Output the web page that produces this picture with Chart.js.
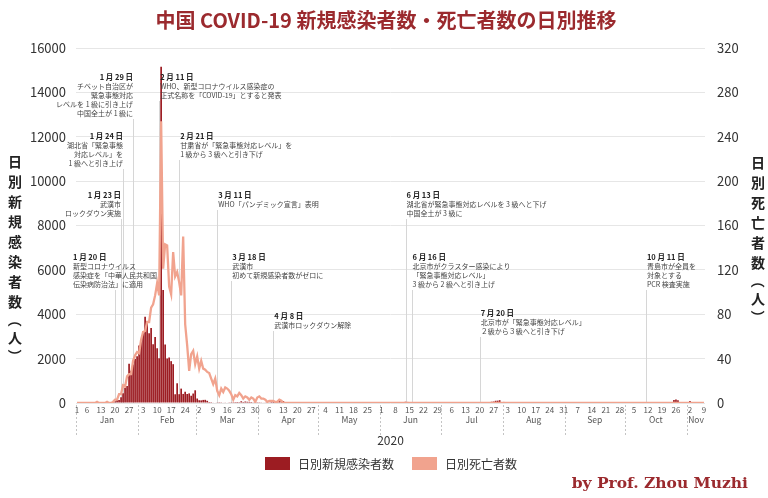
<!DOCTYPE html>
<html>
<head>
<meta charset="utf-8">
<script src="https://cdn.jsdelivr.net/npm/chart.js@4.4.0/dist/chart.umd.min.js"></script>
<style>
    html, body { margin: 0; padding: 0; background: #fff; }
</style>
</head>
<body>
<canvas id="chart" width="768" height="498"></canvas>
<script>
// Months shown on the axis (2020, Jan 1 to Nov 9)
const months = ['Jan', 'Feb', 'Mar', 'Apr', 'May', 'Jun', 'Jul', 'Aug', 'Sep', 'Oct', 'Nov'];
const monthDays = [31, 29, 31, 30, 31, 30, 31, 31, 30, 31, 9];

// Day numbers printed under the axis, per month
const tickDays = [
    [1, 6, 13, 20, 27], [3, 10, 17, 24], [2, 9, 16, 23, 30], [6, 13, 20, 27],
    [4, 11, 18, 25], [1, 8, 15, 22, 29], [6, 13, 20, 27], [3, 10, 17, 24, 31],
    [7, 14, 21, 28], [5, 12, 19, 26], [2, 9]
];

// Daily new cases
const casesJan = [0, 0, 0, 0, 0, 0, 0, 0, 0, 0, 0, 0, 0, 0, 0, 0, 4, 17, 59, 77, 149, 131, 259, 444, 688, 769, 1771, 1459, 1737, 1982, 2102];
const casesFeb = [2590, 2829, 3235, 3887, 3694, 3143, 3385, 2652, 2973, 2467, 2015, 15152, 5090, 2641, 2008, 2048, 1886, 1749, 394, 889, 397, 648, 409, 508, 406, 433, 327, 427, 573];
const casesMar = [202, 125, 119, 139, 143, 99, 44, 40, 19, 24, 15, 8, 11, 20, 16, 21, 13, 34, 39, 41, 46, 39, 78, 47, 67, 55, 54, 45, 31, 48, 36];
const casesApr = [35, 31, 19, 30, 39, 32, 62, 63, 42, 46, 99, 108, 89, 46, 26, 27, 16, 27, 12, 11, 30, 10, 10, 6, 12, 3, 6, 22, 4, 12];
const casesMay = [1, 2, 1, 3, 2, 2, 4, 1, 1, 14, 17, 7, 3, 8, 4, 5, 7, 6, 6, 2, 4, 3, 0, 11, 7, 3, 4, 2, 1, 4, 2];
const casesJun = [5, 16, 4, 5, 5, 5, 6, 3, 3, 3, 11, 11, 57, 49, 40, 44, 28, 25, 32, 26, 26, 18, 22, 11, 19, 17, 21, 12, 19, 3];
const casesJul = [3, 3, 4, 3, 7, 8, 7, 8, 2, 4, 3, 8, 7, 8, 6, 5, 13, 16, 22, 11, 14, 15, 22, 34, 46, 57, 68, 101, 105, 127, 45];
const casesAug = [49, 36, 43, 36, 27, 37, 37, 23, 23, 19, 25, 22, 19, 22, 22, 13, 22, 22, 14, 22, 17, 22, 20, 16, 15, 9, 9, 9, 9, 12, 9];
const casesSep = [5, 7, 11, 10, 10, 8, 10, 6, 7, 8, 10, 12, 10, 8, 10, 32, 14, 9, 20, 14, 6, 12, 12, 11, 10, 14, 15, 12, 8, 10];
const casesOct = [10, 14, 14, 20, 11, 10, 9, 13, 10, 19, 21, 13, 13, 10, 13, 24, 13, 13, 21, 16, 24, 13, 11, 20, 137, 161, 120, 19, 24, 25, 33];
const casesNov = [35, 93, 33, 24, 23, 32, 36, 16, 25];

// Daily deaths
const deathsJan = [0, 0, 0, 0, 0, 0, 0, 0, 0, 0, 1, 0, 0, 0, 0, 1, 0, 0, 1, 3, 3, 8, 8, 16, 15, 24, 26, 26, 38, 43, 46];
const deathsFeb = [45, 57, 64, 65, 73, 73, 86, 89, 97, 108, 97, 254, 121, 143, 142, 105, 98, 136, 114, 118, 109, 97, 150, 71, 52, 29, 44, 47, 35];
const deathsMar = [42, 31, 38, 31, 30, 28, 27, 22, 17, 22, 11, 7, 13, 10, 14, 13, 11, 8, 3, 7, 6, 9, 7, 4, 6, 5, 3, 5, 4, 1, 5];
const deathsApr = [6, 4, 4, 3, 1, 2, 2, 2, 1, 1, 3, 2, 0, 0, 0, 0, 0, 0, 0, 0, 0, 0, 0, 0, 0, 0, 0, 0, 0, 0];
const deathsMay = [0, 0, 0, 0, 0, 0, 0, 0, 0, 0, 0, 0, 0, 0, 0, 0, 0, 0, 0, 0, 0, 0, 0, 0, 0, 0, 0, 0, 0, 0, 0];
const deathsJun = [0, 0, 0, 0, 0, 0, 0, 0, 0, 0, 0, 0, 0, 0, 0, 0, 0, 0, 0, 0, 0, 0, 0, 0, 0, 0, 0, 0, 0, 0];
const deathsJul = [0, 0, 0, 0, 0, 0, 0, 0, 0, 0, 0, 0, 0, 0, 0, 0, 0, 0, 0, 0, 0, 0, 0, 0, 0, 0, 0, 0, 0, 0, 0];
const deathsAug = [0, 0, 0, 0, 0, 0, 0, 0, 0, 0, 0, 0, 0, 0, 0, 0, 0, 0, 0, 0, 0, 0, 0, 0, 0, 0, 0, 0, 0, 0, 0];
const deathsSep = [0, 0, 0, 0, 0, 0, 0, 0, 0, 0, 0, 0, 0, 0, 0, 0, 0, 0, 0, 0, 0, 0, 0, 0, 0, 0, 0, 0, 0, 0];
const deathsOct = [0, 0, 0, 0, 0, 0, 0, 0, 0, 0, 0, 0, 0, 0, 0, 0, 0, 0, 0, 0, 0, 0, 0, 0, 0, 0, 0, 0, 0, 0, 0];
const deathsNov = [0, 0, 0, 0, 0, 0, 0, 0, 0];

// Events marked on the chart
const events = [
    { date: '1/29', head: '1 月 29 日', lines: ['チベット自治区が', '緊急事態対応', 'レベルを 1 級に引き上げ', '中国全土が 1 級に'], align: 'right', top: 77 },
    { date: '2/11', head: '2 月 11 日', lines: ['WHO、新型コロナウイルス感染症の', '正式名称を「COVID-19」とすると発表'], align: 'left', top: 77 },
    { date: '1/24', head: '1 月 24 日', lines: ['湖北省「緊急事態', '対応レベル」を', '1 級へと引き上げ'], align: 'right', top: 136 },
    { date: '2/21', head: '2 月 21 日', lines: ['甘粛省が「緊急事態対応レベル」を', '1 級から 3 級へと引き下げ'], align: 'left', top: 136 },
    { date: '1/23', head: '1 月 23 日', lines: ['武漢市', 'ロックダウン実施'], align: 'right', top: 195 },
    { date: '3/11', head: '3 月 11 日', lines: ['WHO「パンデミック宣言」表明'], align: 'left', top: 195 },
    { date: '6/13', head: '6 月 13 日', lines: ['湖北省が緊急事態対応レベルを 3 級へと下げ', '中国全土が 3 級に'], align: 'left', top: 195 },
    { date: '1/20', head: '1 月 20 日', lines: ['新型コロナウイルス', '感染症を「中華人民共和国', '伝染病防治法」に適用'], align: 'left', top: 257, textX: 73 },
    { date: '3/18', head: '3 月 18 日', lines: ['武漢市', '初めて新規感染者数がゼロに'], align: 'left', top: 257 },
    { date: '6/16', head: '6 月 16 日', lines: ['北京市がクラスター感染により', '「緊急事態対応レベル」', '3 級から 2 級へと引き上げ'], align: 'left', top: 257 },
    { date: '10/11', head: '10 月 11 日', lines: ['青島市が全員を', '対象とする', 'PCR 検査実施'], align: 'left', top: 257 },
    { date: '4/8', head: '4 月 8 日', lines: ['武漢市ロックダウン解除'], align: 'left', top: 316 },
    { date: '7/20', head: '7 月 20 日', lines: ['北京市が「緊急事態対応レベル」', '２級から３級へと引き下げ'], align: 'left', top: 313 }
];

const labels = [];
const tickSet = new Set();
months.forEach((m, i) => {
    for (let d = 1; d <= monthDays[i]; d++) labels.push(`${i + 1}/${d}`);
    tickDays[i].forEach(d => tickSet.add(`${i + 1}/${d}`));
});

const cases = [].concat(casesJan, casesFeb, casesMar, casesApr, casesMay, casesJun, casesJul, casesAug, casesSep, casesOct, casesNov);
const deaths = [].concat(deathsJan, deathsFeb, deathsMar, deathsApr, deathsMay, deathsJun, deathsJul, deathsAug, deathsSep, deathsOct, deathsNov);

const FONT = '"Noto Sans CJK JP", "Noto Sans", sans-serif';
const BAR_COLOR = '#9c1c22';
const LINE_COLOR = '#f1a38e';
const TITLE_COLOR = '#9b2a2e';

function drawVertical(ctx, text, x, y) {
    // upright stacked characters, brackets turned sideways
    for (const ch of text) {
        const isBracket = ch === '（' || ch === '）';
        if (isBracket) {
            ctx.save();
            ctx.translate(x, y - 2);
            ctx.rotate(Math.PI / 2);
            ctx.fillText(ch, 0, 0);
            ctx.restore();
            y += 16;
        } else {
            ctx.fillText(ch, x, y);
            y += 20;
        }
    }
}

const decor = {
    id: 'decor',
    beforeDatasetsDraw(chart) {
        const { ctx, chartArea, scales } = chart;
        ctx.save();
        ctx.strokeStyle = '#d6d6d6';
        ctx.lineWidth = 1;
        events.forEach(ev => {
            const px = Math.round(scales.x.getPixelForValue(labels.indexOf(ev.date))) + 0.5;
            const top = ev.top + ev.lines.length * 9 + 6;
            ctx.beginPath();
            ctx.moveTo(px, top);
            ctx.lineTo(px, chartArea.bottom);
            ctx.stroke();
        });
        ctx.restore();
    },
    afterDraw(chart) {
        const { ctx, chartArea, scales } = chart;
        const x = scales.x;
        ctx.save();

        // Title
        ctx.fillStyle = TITLE_COLOR;
        ctx.font = `bold 20px ${FONT}`;
        ctx.textAlign = 'center';
        ctx.textBaseline = 'middle';
        ctx.fillText('中国 COVID-19 新規感染者数・死亡者数の日別推移', 386, 20);

        // Axis titles
        ctx.fillStyle = '#222';
        ctx.font = `bold 14px ${FONT}`;
        drawVertical(ctx, '日別新規感染者数（人）', 15, 162);
        drawVertical(ctx, '日別死亡者数（人）', 758, 163);

        // Event notes
        events.forEach(ev => {
            const px = x.getPixelForValue(labels.indexOf(ev.date));
            const tx = ev.textX !== undefined ? ev.textX : (ev.align === 'right' ? px : px + 1);
            ctx.textAlign = ev.align;
            ctx.fillStyle = '#222';
            ctx.font = `bold 7.5px ${FONT}`;
            ctx.fillText(ev.head, tx, ev.top);
            ctx.fillStyle = '#444';
            ctx.font = `7px ${FONT}`;
            ev.lines.forEach((line, i) => ctx.fillText(line, tx, ev.top + 9 * (i + 1)));
        });

        // Month labels and separators
        let start = 0;
        ctx.strokeStyle = '#c4c4c4';
        ctx.setLineDash([2, 2]);
        ctx.lineWidth = 1;
        ctx.fillStyle = '#555';
        ctx.font = `8.5px ${FONT}`;
        ctx.textAlign = 'center';
        months.forEach((m, i) => {
            const sx = Math.round(x.getPixelForValue(start - 0.5)) + 0.5;
            ctx.beginPath();
            ctx.moveTo(sx, chartArea.bottom + 2);
            ctx.lineTo(sx, chartArea.bottom + 34);
            ctx.stroke();
            ctx.fillText(m, x.getPixelForValue(start + (monthDays[i] - 1) / 2), chartArea.bottom + 17);
            start += monthDays[i];
        });
        ctx.setLineDash([]);

        // Year
        ctx.fillStyle = '#333';
        ctx.font = `12px ${FONT}`;
        ctx.fillText('2020', (chartArea.left + chartArea.right) / 2, 440);

        // Legend
        ctx.textAlign = 'left';
        ctx.font = `12px ${FONT}`;
        ctx.fillStyle = BAR_COLOR;
        ctx.fillRect(265, 457, 25, 13);
        ctx.fillStyle = LINE_COLOR;
        ctx.fillRect(412, 457, 25, 13);
        ctx.fillStyle = '#333';
        ctx.fillText('日別新規感染者数', 298, 464);
        ctx.fillText('日別死亡者数', 445, 464);

        // Credit
        ctx.textAlign = 'right';
        ctx.fillStyle = TITLE_COLOR;
        ctx.font = 'bold 15.5px "DejaVu Serif", serif';
        ctx.fillText('by Prof. Zhou Muzhi', 748, 484);

        ctx.restore();
    }
};

new Chart(document.getElementById('chart'), {
    data: {
        labels,
        datasets: [
            {
                type: 'line',
                label: '日別死亡者数',
                data: deaths,
                yAxisID: 'y1',
                borderColor: LINE_COLOR,
                borderWidth: 2.3,
                pointRadius: 0,
                tension: 0,
                order: 1
            },
            {
                type: 'bar',
                label: '日別新規感染者数',
                data: cases,
                yAxisID: 'y',
                backgroundColor: BAR_COLOR,
                barPercentage: 0.85,
                categoryPercentage: 1,
                order: 2
            }
        ]
    },
    options: {
        responsive: false,
        animation: false,
        layout: { padding: { top: 48, left: 0, right: 0, bottom: 0 } },
        plugins: {
            legend: { display: false },
            tooltip: { enabled: false }
        },
        scales: {
            x: {
                grid: { display: false, drawTicks: false },
                border: { display: false },
                ticks: {
                    autoSkip: false,
                    maxRotation: 0,
                    padding: 2,
                    color: '#555',
                    font: { family: FONT, size: 8 },
                    callback: (v, i) => tickSet.has(labels[i]) ? labels[i].split('/')[1] : ''
                },
                afterFit: scale => { scale.height = 95; }
            },
            y: {
                position: 'left',
                min: 0,
                max: 16000,
                ticks: {
                    stepSize: 2000,
                    padding: 10,
                    color: '#333',
                    font: { family: FONT, size: 13 },
                    callback: v => v
                },
                grid: { color: '#e6e6e6', drawTicks: false },
                border: { display: false },
                afterFit: scale => { scale.width = 76; }
            },
            y1: {
                position: 'right',
                min: 0,
                max: 320,
                ticks: {
                    stepSize: 40,
                    padding: 12,
                    color: '#333',
                    font: { family: FONT, size: 13 },
                    callback: v => v
                },
                grid: { display: false, drawTicks: false },
                border: { display: false },
                afterFit: scale => { scale.width = 63; }
            }
        }
    },
    plugins: [decor]
});
</script>
</body>
</html>
